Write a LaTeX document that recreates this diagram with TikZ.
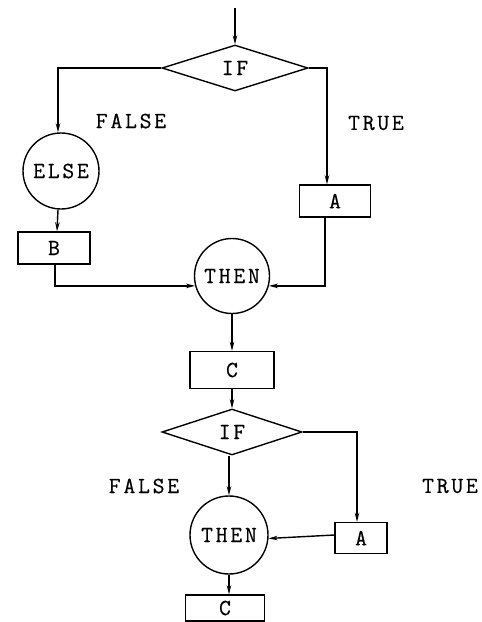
\documentclass[tikz,border=0pt]{standalone}
\usepackage{fontspec}
\newfontfamily\tw{Latin Modern Mono}[LetterSpace=12,FakeBold=0.5]
\usetikzlibrary{shapes.geometric,arrows.meta}
\begin{document}
\begin{tikzpicture}[x=1pt,y=-1pt,
  every node/.style={font=\tw\fontsize{23}{23}\selectfont, inner sep=0pt},
  ln/.style={line width=1.4pt},
  arr/.style={ln,-{Stealth[length=9pt,width=4.5pt]}},
  dec/.style={draw,ln,diamond,minimum width=#1,minimum height=46pt},
  bx/.style={draw,ln,rectangle},
  circ/.style={draw,ln,circle,minimum size=#1},
  lbl/.style={}]
\useasboundingbox (0,0) rectangle (482,622);
\coordinate (start) at (235,8);
\node[dec=146pt] (if1) at (235,68) {IF};
\node[circ=76pt] (else) at (61,171) {ELSE};
\node[bx,minimum width=72pt,minimum height=32pt] (b) at (54,248) {B};
\node[bx,minimum width=71pt,minimum height=32pt] (a1) at (335,201) {A};
\node[circ=75pt] (then1) at (232,276) {THEN};
\node[bx,minimum width=84pt,minimum height=37pt] (c1) at (232,370) {C};
\node[dec=140pt] (if2) at (232,432) {IF};
\node[circ=78pt] (then2) at (229,535) {THEN};
\node[bx,minimum width=52pt,minimum height=31pt] (a2) at (361,538) {A};
\node[bx,minimum width=79pt,minimum height=26pt] (c2) at (225,608) {C};
\node[lbl] (f1) at (131,121) {FALSE};
\node[lbl] (t1) at (376,123) {TRUE};
\node[lbl] (f2) at (144,486) {FALSE};
\node[lbl] (t2) at (450,486) {TRUE};
\coordinate (a1in) at ([xshift=-8pt]a1.north);
\coordinate (a2in) at ([xshift=-4pt]a2.north);
\draw[arr] (start) -- (if1.north);
\draw[arr] (if1.west) -| ([xshift=-3pt]else.north);
\draw[arr] (if1.east) -| (a1in);
\draw[arr] ([xshift=-3pt]else.south) -- ([xshift=3pt]b.north);
\draw[arr] ([xshift=1pt]b.south) |- (then1.195);
\draw[arr] ([xshift=-10pt]a1.south) |- (then1.-15);
\draw[arr] (then1.south) -- (c1.north);
\draw[arr] (c1.south) -- (if2.north);
\draw[arr] ([xshift=-3pt]if2.south) -- (then2.north);
\draw[arr] (if2.east) -| (a2in);
\draw[arr] ([yshift=3pt]a2.west) -- (then2.-5);
\draw[arr] (then2.south) -- ([xshift=4pt]c2.north);
\end{tikzpicture}
\end{document}
